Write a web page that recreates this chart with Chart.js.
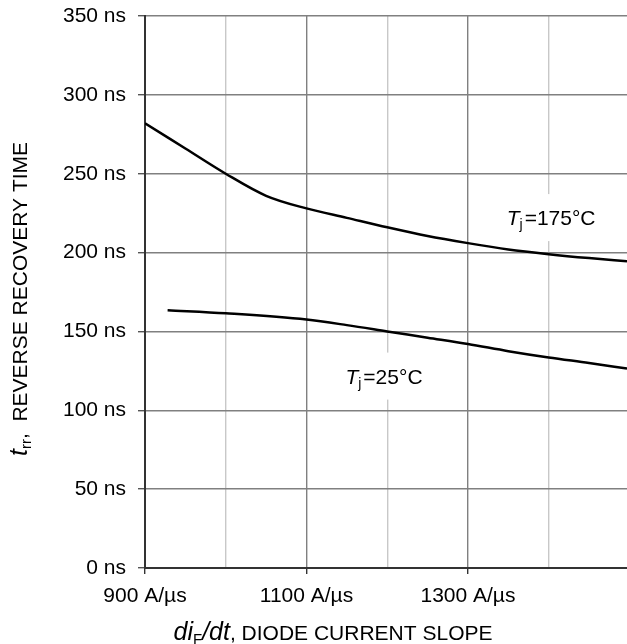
<!DOCTYPE html>
<html lang="en">
<head>
    <meta charset="UTF-8">
    <title>Reverse recovery time vs diF/dt</title>
    <style>
        html, body {
            margin: 0;
            padding: 0;
            background-color: #ffffff;
            overflow: hidden;
        }
        canvas {
            display: block;
        }
    </style>
    <script src="https://cdn.jsdelivr.net/npm/chart.js"></script>
</head>
<body>
    <canvas id="grafico" width="627" height="644"></canvas>

    <script>
        // diF/dt (A/µs) and trr (ns)
        const slope175 = [900, 950, 1000, 1050, 1100, 1150, 1200, 1250, 1300, 1350, 1400, 1450, 1497];
        const trr175 = [282, 266, 250, 236, 228, 222, 216, 210.5, 206, 202, 199, 196.5, 194.5];

        const slope25 = [928, 1000, 1100, 1150, 1200, 1250, 1300, 1350, 1400, 1450, 1497];
        const trr25 = [163.5, 161.5, 157.5, 154, 150, 146, 142, 137.5, 133.5, 130, 126.5];

        const xTicks = [900, 1000, 1100, 1200, 1300, 1400];
        const xLabelled = [900, 1100, 1300];
        const yTicks = [0, 50, 100, 150, 200, 250, 300, 350];

        // where the curve names sit (data coordinates)
        const curveNames = [
            { sub: 'j', rest: '=175°C', x: 1403, y: 222.5 },
            { sub: 'j', rest: '=25°C', x: 1196, y: 122 }
        ];

        const FONT = '"Liberation Sans", Arial, sans-serif';

        function toPoints(xs, ys) {
            return xs.map((x, i) => ({ x: x, y: ys[i] }));
        }

        // T_j labels with white box behind them
        const namesPlugin = {
            id: 'curveNames',
            beforeDatasetsDraw(chart) {
                const ctx = chart.ctx;
                const sx = chart.scales.x, sy = chart.scales.y;
                ctx.save();
                curveNames.forEach(n => {
                    const cx = sx.getPixelForValue(n.x);
                    const cy = sy.getPixelForValue(n.y);
                    ctx.font = 'italic 21px ' + FONT;
                    const wT = ctx.measureText('T').width;
                    ctx.font = '14px ' + FONT;
                    const wS = ctx.measureText(n.sub).width;
                    ctx.font = '21px ' + FONT;
                    const wR = ctx.measureText(n.rest).width;
                    const w = wT + wS + 2 + wR;
                    ctx.fillStyle = '#ffffff';
                    ctx.fillRect(cx - w / 2 - 6, cy - 23, w + 12, 47);
                    ctx.fillStyle = '#000000';
                    ctx.textBaseline = 'alphabetic';
                    ctx.textAlign = 'left';
                    let x0 = cx - w / 2;
                    ctx.font = 'italic 21px ' + FONT;
                    ctx.fillText('T', x0, cy + 8);
                    x0 += wT;
                    ctx.font = '14px ' + FONT;
                    ctx.fillText(n.sub, x0, cy + 12);
                    x0 += wS + 2;
                    ctx.font = '21px ' + FONT;
                    ctx.fillText(n.rest, x0, cy + 8);
                });
                ctx.restore();
            },
            afterDraw(chart) {
                const ctx = chart.ctx;
                ctx.save();
                ctx.fillStyle = '#000000';
                ctx.textBaseline = 'alphabetic';
                ctx.textAlign = 'left';

                // x title: diF/dt, DIODE CURRENT SLOPE
                const parts = [
                    { t: 'di', f: 'italic 25px ' + FONT, dy: 0 },
                    { t: 'F', f: '15px ' + FONT, dy: 4 },
                    { t: '/dt', f: 'italic 25px ' + FONT, dy: 0 },
                    { t: ', DIODE CURRENT SLOPE', f: '21px ' + FONT, dy: 0 }
                ];
                drawParts(ctx, parts, 333, 640);

                // y title, rotated
                ctx.translate(27, 299);
                ctx.rotate(-Math.PI / 2);
                const yparts = [
                    { t: 't', f: 'italic 25px ' + FONT, dy: 0 },
                    { t: 'rr', f: '15px ' + FONT, dy: 4 },
                    { t: ',  REVERSE RECOVERY TIME', f: '21px ' + FONT, dy: 0 }
                ];
                drawParts(ctx, yparts, 0, 0);
                ctx.restore();
            }
        };

        function drawParts(ctx, parts, cx, baseY) {
            let total = 0;
            parts.forEach(p => { ctx.font = p.f; p.w = ctx.measureText(p.t).width; total += p.w; });
            let x = cx - total / 2;
            parts.forEach(p => {
                ctx.font = p.f;
                ctx.fillText(p.t, x, baseY + p.dy);
                x += p.w;
            });
        }

        const ctxGrafico = document.getElementById('grafico').getContext('2d');
        const grafico = new Chart(ctxGrafico, {
            type: 'line',
            data: {
                datasets: [{
                    label: 'Tj=175°C',
                    data: toPoints(slope175, trr175),
                    borderColor: '#000000',
                    borderWidth: 2.5,
                    pointRadius: 0,
                    cubicInterpolationMode: 'monotone',
                    fill: false
                }, {
                    label: 'Tj=25°C',
                    data: toPoints(slope25, trr25),
                    borderColor: '#000000',
                    borderWidth: 2.5,
                    pointRadius: 0,
                    cubicInterpolationMode: 'monotone',
                    fill: false
                }]
            },
            options: {
                responsive: false,
                animation: false,
                layout: { padding: { left: 0, right: 0, top: 16, bottom: 0 } },
                plugins: {
                    legend: { display: false },
                    tooltip: { enabled: false }
                },
                scales: {
                    x: {
                        type: 'linear',
                        min: 900,
                        max: 1497,
                        afterBuildTicks: s => { s.ticks = xTicks.map(v => ({ value: v })); },
                        afterFit: s => { s.height = 76; s.paddingLeft = 0; s.paddingRight = 0; },
                        grid: {
                            color: c => (c.tick && c.tick.value % 200 === 100) ? '#808080' : '#c8c8c8',
                            lineWidth: 1.4,
                            tickLength: 6,
                            tickColor: c => (c.tick && xLabelled.includes(c.tick.value)) ? '#333333' : 'rgba(0,0,0,0)'
                        },
                        border: { color: '#333333', width: 2 },
                        ticks: {
                            padding: 10,
                            maxRotation: 0,
                            autoSkip: false,
                            color: '#000000',
                            font: { family: FONT, size: 21 },
                            callback: v => xLabelled.includes(v) ? v + ' A/µs' : ''
                        }
                    },
                    y: {
                        min: 0,
                        max: 350,
                        afterBuildTicks: s => { s.ticks = yTicks.map(v => ({ value: v })); },
                        afterFit: s => { s.width = 145; s.paddingTop = 0; s.paddingBottom = 0; },
                        grid: {
                            color: '#808080',
                            lineWidth: 1.4,
                            tickLength: 7,
                            tickColor: '#555555'
                        },
                        border: { color: '#333333', width: 2 },
                        ticks: {
                            padding: 12,
                            color: '#000000',
                            font: { family: FONT, size: 21 },
                            callback: v => v + ' ns'
                        }
                    }
                }
            },
            plugins: [namesPlugin]
        });
    </script>
</body>
</html>
